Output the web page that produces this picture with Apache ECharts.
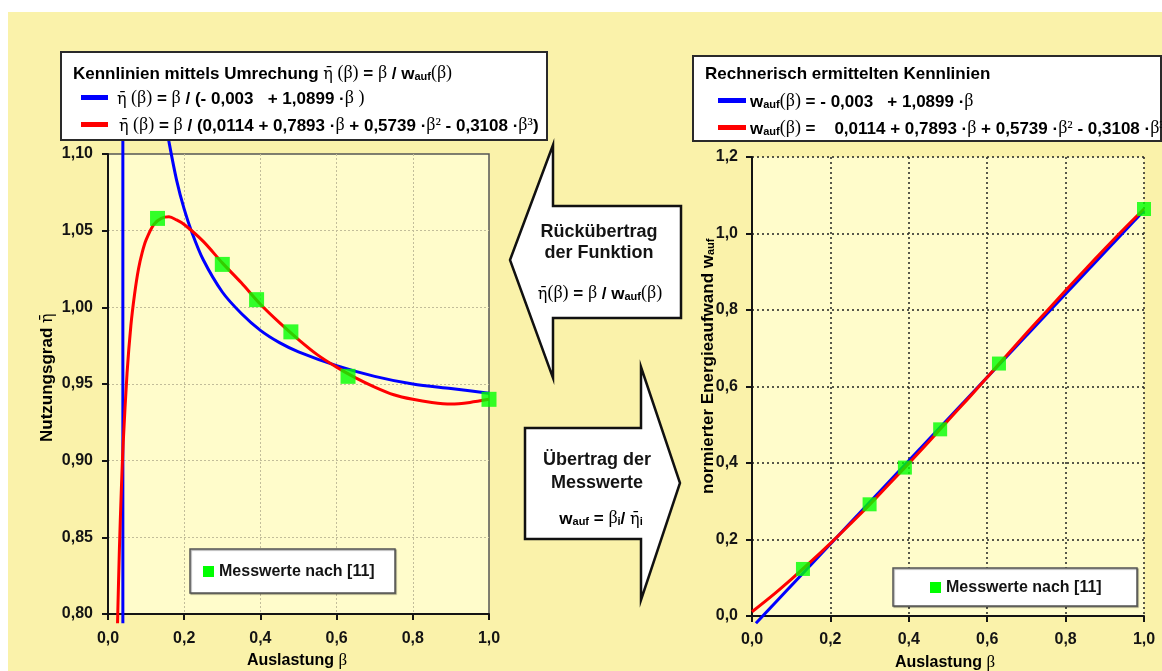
<!DOCTYPE html>
<html>
<head>
<meta charset="utf-8">
<title>Kennlinien Nutzungsgrad und Energieaufwand</title>
<script src="https://cdn.jsdelivr.net/npm/echarts@6.0.0/dist/echarts.min.js"></script>
<style>
  html, body { margin: 0; padding: 0; background: #ffffff; }
  #wrap { position: relative; width: 1162px; height: 671px; background: #ffffff; overflow: hidden; }
  #panel { position: absolute; left: 8px; top: 12px; right: 0; bottom: 0; background: #FAF2AA; }
  #chart { position: absolute; left: 0; top: 0; width: 1162px; height: 671px; }
</style>
</head>
<body>
<div id="wrap">
  <div id="panel"></div>
  <div id="chart"></div>
</div>
<script>
// ---- Messwerte nach [11] ----
const messBeta = [0.13, 0.30, 0.39, 0.48, 0.63, 1.00];
const messEta  = [1.058, 1.028, 1.005, 0.984, 0.955, 0.940];
const messWauf = [0.123, 0.292, 0.388, 0.488, 0.660, 1.064];

// ---- Nutzungsgrad, lineare Kennlinie (blau) ----
// Sprung an der Polstelle
const betaPol = [0.039, 0.039];
const etaPol  = [0.794, 1.115];
// rechter Ast
const betaBlau = [0.155, 0.16, 0.18, 0.20, 0.22, 0.25, 0.30, 0.35, 0.40, 0.45, 0.50, 0.60, 0.70, 0.80, 0.90, 1.00];
const etaBlau  = [1.116, 1.108, 1.083, 1.064, 1.049, 1.031, 1.010, 0.996, 0.985, 0.977, 0.971, 0.962, 0.955, 0.950, 0.947, 0.944];

// ---- Nutzungsgrad, kubische Kennlinie (rot) ----
const betaRot = [0.025, 0.03, 0.035, 0.04, 0.05, 0.06, 0.07, 0.08, 0.09, 0.10, 0.12, 0.14, 0.16, 0.18, 0.20,
                 0.25, 0.30, 0.35, 0.40, 0.45, 0.50, 0.55, 0.60, 0.65, 0.70, 0.75, 0.80, 0.85, 0.90, 0.95, 1.00];
const etaRot  = [0.794, 0.843, 0.881, 0.912, 0.957, 0.988, 1.009, 1.025, 1.036, 1.044, 1.054, 1.058, 1.059, 1.057, 1.054,
                 1.043, 1.029, 1.016, 1.002, 0.990, 0.979, 0.969, 0.961, 0.954, 0.948, 0.943, 0.940, 0.938, 0.937, 0.938, 0.940];

// ---- normierter Energieaufwand ----
const betaWBlau = [0.01, 1.00];
const wBlau     = [-0.019, 1.060];
const betaWRot  = [0, 0.05, 0.10, 0.15, 0.20, 0.25, 0.30, 0.35, 0.40, 0.45, 0.50, 0.55, 0.60, 0.65, 0.70, 0.75, 0.80, 0.85, 0.90, 0.95, 1.00];
const wRot      = [0.011, 0.052, 0.096, 0.142, 0.190, 0.240, 0.291, 0.345, 0.399, 0.454, 0.511, 0.567, 0.624, 0.682, 0.739, 0.795, 0.851, 0.906, 0.960, 1.013, 1.064];

// ---- Texte ----
const ETA = 'η\u0304';
const legendeLinksTitel = '{b|Kennlinien mittels Umrechung }{e|' + ETA + '}{g| (β)}{b| = }{g|β}{b| / w}{s|auf}{g|(β)}';
const legendeLinks1 = '{e|' + ETA + '}{g| (β)}{b| = }{g|β}{b| / (- 0,003   + 1,0899 ·}{g|β )}';
const legendeLinks2 = '{e|' + ETA + '}{g| (β)}{b| = }{g|β}{b| / (0,0114 + 0,7893 ·}{g|β}{b| + 0,5739 ·}{g|β²}{b| - 0,3108 ·}{g|β³}{b|)}';
const legendeRechtsTitel = '{b|Rechnerisch ermittelten Kennlinien}';
const legendeRechts1 = '{b|w}{s|auf}{g|(β)}{b| = - 0,003   + 1,0899 ·}{g|β}';
const legendeRechts2 = '{b|w}{s|auf}{g|(β)}{b| =    0,0114 + 0,7893 ·}{g|β}{b| + 0,5739 ·}{g|β²}{b| - 0,3108 ·}{g|β³}';
const messLabel = 'Messwerte nach [11]';
const xName = '{b|Auslastung }{g|β}';
const yNameLinks = '{b|Nutzungsgrad }{e|' + ETA + '}';
const yNameRechts = '{b|normierter Energieaufwand w}{s|auf}';
const pfeilLinksFormel = '{e|' + ETA + '}{g|(β)}{b| = }{g|β}{b| / w}{s|auf}{g|(β)}';
const pfeilRechtsFormel = '{b|w}{s|auf}{b| = }{g|β}{s|i}{b|/ }{e|' + ETA + '}{s|i}';

const SANS = 'Liberation Sans, Arial, sans-serif';
const SERIF = 'Liberation Serif, Times New Roman, serif';
const SERIF_MARK = 'DejaVu Serif, serif';
const INK = '#141414';
const BLUE = '#0000FF';
const RED = '#FF0000';
const GREEN = '#00FF00';
const PLOT_BG = '#FFFCCB';

const zip = (xs, ys) => xs.map((x, i) => [x, ys[i]]);
const fmt1 = v => v.toFixed(1).replace('.', ',');
const fmt2 = v => v.toFixed(2).replace('.', ',');

function richSet(size) {
  return {
    b: { fontFamily: SANS, fontWeight: 'bold', fontSize: size, color: INK, lineHeight: size + 4, verticalAlign: 'bottom' },
    g: { fontFamily: SERIF, fontSize: size + 1, color: INK, lineHeight: size + 4, verticalAlign: 'bottom' },
    e: { fontFamily: SERIF_MARK, fontSize: size - 1, color: INK, lineHeight: size + 4, verticalAlign: 'bottom' },
    s: { fontFamily: SANS, fontWeight: 'bold', fontSize: Math.round(size * 0.62), color: INK, lineHeight: 6, verticalAlign: 'bottom' }
  };
}

function richText(x, y, text, size, opts) {
  return Object.assign({
    type: 'text', x: x, y: y, z: 50,
    style: {
      text: text, rich: richSet(size),
      align: (opts && opts.align) || 'left', verticalAlign: 'middle'
    }
  }, opts && opts.extra ? opts.extra : {});
}

function plainText(x, y, text, size, align) {
  return {
    type: 'text', x: x, y: y, z: 50,
    style: { text: text, fontFamily: SANS, fontWeight: 'bold', fontSize: size, fill: INK, align: align || 'center', verticalAlign: 'middle' }
  };
}

const labelFont = { fontFamily: SANS, fontWeight: 'bold', fontSize: 16, color: INK };
const axisLineStyle = { color: INK, width: 2 };

const chart = echarts.init(document.getElementById('chart'), null, { renderer: 'canvas' });

chart.setOption({
  animation: false,
  backgroundColor: 'transparent',
  grid: [
    { left: 108, top: 154, width: 381, height: 460, show: true, backgroundColor: PLOT_BG, borderColor: '#555555', borderWidth: 1.5 },
    { left: 752, top: 157, width: 392, height: 459, show: true, backgroundColor: PLOT_BG, borderWidth: 0 }
  ],
  xAxis: [
    {
      gridIndex: 0, type: 'value', min: 0, max: 1, interval: 0.2,
      axisLine: { onZero: false, lineStyle: axisLineStyle },
      axisTick: { show: true, length: 6, lineStyle: axisLineStyle },
      axisLabel: Object.assign({ margin: 17, formatter: fmt1 }, labelFont),
      splitLine: { show: true, showMinLine: false, showMaxLine: false, lineStyle: { color: '#c2bd9a', type: [2, 2], width: 1 } }
    },
    {
      gridIndex: 1, type: 'value', min: 0, max: 1, interval: 0.2,
      axisLine: { onZero: false, lineStyle: axisLineStyle },
      axisTick: { show: true, length: 6, lineStyle: axisLineStyle },
      axisLabel: Object.assign({ margin: 16, formatter: fmt1 }, labelFont),
      splitLine: { show: true, showMinLine: false, lineStyle: { color: '#222222', type: [2, 3], width: 1.5 } }
    }
  ],
  yAxis: [
    {
      gridIndex: 0, type: 'value', min: 0.8, max: 1.1, interval: 0.05,
      axisLine: { onZero: false, lineStyle: axisLineStyle },
      axisTick: { show: true, length: 6, lineStyle: axisLineStyle },
      axisLabel: Object.assign({ margin: 15, formatter: fmt2 }, labelFont),
      splitLine: { show: true, showMinLine: false, showMaxLine: false, lineStyle: { color: '#c2bd9a', type: [2, 2], width: 1 } }
    },
    {
      gridIndex: 1, type: 'value', min: 0, max: 1.2, interval: 0.2,
      axisLine: { onZero: false, lineStyle: axisLineStyle },
      axisTick: { show: true, length: 6, lineStyle: axisLineStyle },
      axisLabel: Object.assign({ margin: 14, formatter: fmt1 }, labelFont),
      splitLine: { show: true, showMinLine: false, lineStyle: { color: '#222222', type: [2, 3], width: 1.5 } }
    }
  ],
  series: [
    // linke Grafik: Nutzungsgrad
    { type: 'line', xAxisIndex: 0, yAxisIndex: 0, data: zip(betaPol, etaPol), clip: false, symbol: 'none',
      lineStyle: { color: BLUE, width: 3 }, z: 3 },
    { type: 'line', xAxisIndex: 0, yAxisIndex: 0, data: zip(betaBlau, etaBlau), clip: false, symbol: 'none', smooth: 0.3,
      lineStyle: { color: BLUE, width: 3 }, z: 3 },
    { type: 'line', xAxisIndex: 0, yAxisIndex: 0, data: zip(betaRot, etaRot), clip: false, symbol: 'none', smooth: 0.3,
      lineStyle: { color: RED, width: 3 }, z: 4 },
    { type: 'scatter', name: messLabel, xAxisIndex: 0, yAxisIndex: 0, data: zip(messBeta, messEta), clip: false,
      symbol: 'rect', symbolSize: 15, itemStyle: { color: GREEN }, z: 6 },
    // rechte Grafik: normierter Energieaufwand
    { type: 'line', xAxisIndex: 1, yAxisIndex: 1, data: zip(betaWBlau, wBlau), clip: false, symbol: 'none',
      lineStyle: { color: BLUE, width: 3 }, z: 3 },
    { type: 'line', xAxisIndex: 1, yAxisIndex: 1, data: zip(betaWRot, wRot), clip: false, symbol: 'none', smooth: 0.3,
      lineStyle: { color: RED, width: 3 }, z: 4 },
    { type: 'scatter', name: messLabel, xAxisIndex: 1, yAxisIndex: 1, data: zip(messBeta, messWauf), clip: false,
      symbol: 'rect', symbolSize: 14, itemStyle: { color: GREEN }, z: 6 }
  ],
  graphic: [
    // Legende links oben
    { type: 'rect', z: 40, shape: { x: 61, y: 52, width: 486, height: 88 }, style: { fill: '#ffffff', stroke: '#2a2a2a', lineWidth: 2 } },
    richText(73, 72, legendeLinksTitel, 17),
    { type: 'rect', z: 45, shape: { x: 81, y: 95, width: 27, height: 5 }, style: { fill: BLUE } },
    richText(117, 97, legendeLinks1, 17),
    { type: 'rect', z: 45, shape: { x: 81, y: 122, width: 27, height: 5 }, style: { fill: RED } },
    richText(119, 124, legendeLinks2, 17),

    // Legende rechts oben
    { type: 'rect', z: 40, shape: { x: 693, y: 56, width: 468, height: 85 }, style: { fill: '#ffffff', stroke: '#2a2a2a', lineWidth: 2 } },
    richText(705, 72, legendeRechtsTitel, 17),
    { type: 'rect', z: 45, shape: { x: 718, y: 98, width: 28, height: 5 }, style: { fill: BLUE } },
    richText(750, 100, legendeRechts1, 17),
    { type: 'rect', z: 45, shape: { x: 718, y: 125, width: 28, height: 5 }, style: { fill: RED } },
    richText(750, 127, legendeRechts2, 17),

    // Pfeil nach links: Rückübertrag
    { type: 'polygon', z: 40,
      shape: { points: [[510, 260], [553, 145], [553, 206], [681, 206], [681, 318], [553, 318], [553, 378]] },
      style: { fill: '#ffffff', stroke: '#111111', lineWidth: 2.5, lineJoin: 'miter' } },
    plainText(599, 232, 'Rückübertrag', 18),
    plainText(599, 253, 'der Funktion', 18),
    richText(600, 292, pfeilLinksFormel, 17, { align: 'center' }),

    // Pfeil nach rechts: Übertrag der Messwerte
    { type: 'polygon', z: 40,
      shape: { points: [[525, 428], [641, 428], [641, 367], [680, 483], [641, 600], [641, 539], [525, 539]] },
      style: { fill: '#ffffff', stroke: '#111111', lineWidth: 2.5, lineJoin: 'miter' } },
    plainText(597, 460, 'Übertrag der', 18),
    plainText(597, 483, 'Messwerte', 18),
    richText(601, 517, pfeilRechtsFormel, 17, { align: 'center' }),

    // Achsentitel
    richText(297, 659, xName, 16, { align: 'center' }),
    richText(945, 661, xName, 16, { align: 'center' }),
    richText(45, 442, yNameLinks, 17, { extra: { rotation: Math.PI / 2 } }),
    richText(706, 494, yNameRechts, 17, { extra: { rotation: Math.PI / 2 } }),

    // Legende Messwerte, links
    { type: 'rect', z: 40, shape: { x: 190, y: 549, width: 205, height: 44 },
      style: { fill: '#ffffff', stroke: '#555555', lineWidth: 1.5, shadowColor: 'rgba(0,0,0,0.35)', shadowOffsetX: 1, shadowOffsetY: 1, shadowBlur: 1 } },
    { type: 'rect', z: 45, shape: { x: 203, y: 566, width: 11, height: 11 }, style: { fill: GREEN } },
    plainText(219, 572, messLabel, 16, 'left'),

    // Legende Messwerte, rechts
    { type: 'rect', z: 40, shape: { x: 893, y: 568, width: 244, height: 38 },
      style: { fill: '#ffffff', stroke: '#555555', lineWidth: 1.5, shadowColor: 'rgba(0,0,0,0.35)', shadowOffsetX: 1, shadowOffsetY: 1, shadowBlur: 1 } },
    { type: 'rect', z: 45, shape: { x: 930, y: 582, width: 11, height: 11 }, style: { fill: GREEN } },
    plainText(946, 588, messLabel, 16, 'left')
  ]
});
</script>
</body>
</html>
